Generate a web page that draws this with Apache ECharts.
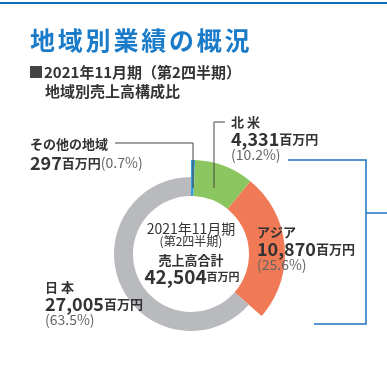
<!DOCTYPE html>
<html><head><meta charset="utf-8">
<script src="https://cdn.jsdelivr.net/npm/echarts@6/dist/echarts.min.js"></script>
<style>html,body{margin:0;padding:0;background:#fff}#c{width:387px;height:368px}</style>
</head><body><div id="c"></div>
<script>
const regions = ['その他の地域', '北 米', 'アジア', '日 本'];
const values = [297, 4331, 10870, 27005];
const shares = ['0.7%', '10.2%', '25.6%', '63.5%'];
const colors = ['#3a9fd9', '#8cc660', '#f07956', '#b9babd'];
const totalLabel = '42,504';
const unit = '百万円';
const titleText = '地域別業績の概況';

const F = '"Noto Sans CJK JP","Noto Sans",sans-serif';
const dark = '#333';
const fmt = v => v.toLocaleString('en-US');

function labelBlock(i, x, y) {
  return [
    {type:'text', style:{text:regions[i], x:x, y:y, font:'bold 13px '+F, fill:dark, textVerticalAlign:'middle'}},
    {type:'text', style:{text:'{n|'+fmt(values[i])+'}{u|'+unit+'}', x:x, y:y+17, textVerticalAlign:'middle',
      rich:{n:{font:'bold 18px '+F, fill:dark}, u:{font:'bold 13px '+F, fill:dark}}}},
    {type:'text', style:{text:'('+shares[i]+')', x:x, y:y+33, font:'14px '+F, fill:'#666', textVerticalAlign:'middle'}}
  ];
}

const titleChars = titleText.split('').map((ch,k)=>({type:'text', style:{text:ch, x:30+k*27.8, y:40, font:'bold 25px '+F, fill:'#1a7bc9', textVerticalAlign:'middle'}}));

const chart = echarts.init(document.getElementById('c'));
const center = [191, 254];
const graphics = [
    {type:'rect', shape:{x:0,y:2,width:387,height:2}, style:{fill:'#0a6ebd'}},
    ...titleChars,
    {type:'rect', shape:{x:30,y:66,width:12,height:12}, style:{fill:'#444'}},
    {type:'text', style:{text:'2021年11月期（第2四半期）', x:44, y:72, font:'bold 15px '+F, fill:dark, textVerticalAlign:'middle'}},
    {type:'text', style:{text:'地域別売上高構成比', x:45, y:91, font:'bold 15px '+F, fill:dark, textVerticalAlign:'middle'}},
    ...labelBlock(0, 30, 144).slice(0,1),
    {type:'text', style:{text:'{n|'+fmt(values[0])+'}{u|'+unit+'}{p|('+shares[0]+')}', x:30, y:163, textVerticalAlign:'middle',
      rich:{n:{font:'bold 18px '+F, fill:dark}, u:{font:'bold 13px '+F, fill:dark}, p:{font:'14px '+F, fill:'#666'}}}},
    ...labelBlock(1, 231, 122),
    ...labelBlock(2, 257, 232),
    ...labelBlock(3, 45, 287),
    {type:'polyline', shape:{points:[[115,143],[193,143],[193,188]]}, style:{stroke:'#444', lineWidth:1, fill:null}},
    {type:'polyline', shape:{points:[[225,122],[214,122],[214,188]]}, style:{stroke:'#444', lineWidth:1, fill:null}},
    {type:'polyline', shape:{points:[[288,160],[366,160],[366,324],[314,324]]}, style:{stroke:'#1b72c2', lineWidth:1.5, fill:null}},
    {type:'line', shape:{x1:366,y1:213,x2:387,y2:213}, style:{stroke:'#1b72c2', lineWidth:1.5}},
    {type:'text', style:{text:'2021年11月期', x:191, y:229, font:'14px '+F, fill:dark, textAlign:'center', textVerticalAlign:'middle'}},
    {type:'text', style:{text:'(第2四半期)', x:191, y:241, font:'12px '+F, fill:dark, textAlign:'center', textVerticalAlign:'middle'}},
    {type:'text', style:{text:'売上高合計', x:191, y:260, font:'bold 13px '+F, fill:dark, textAlign:'center', textVerticalAlign:'middle'}},
    {type:'text', style:{text:'{n|'+totalLabel+'}{u|'+unit+'}', x:192, y:277, textAlign:'center', textVerticalAlign:'middle',
      rich:{n:{font:'bold 19px '+F, fill:dark}, u:{font:'bold 11px '+F, fill:dark}}}}
];
graphics.forEach(g=>{ g.z = 100; g.silent = true; });

chart.setOption({
  animation:false,
  series:[
    {type:'pie', center:center, radius:[58,94], startAngle:90, clockwise:true, silent:true, z:1,
     label:{show:false}, labelLine:{show:false},
     data: values.map((v,i)=>({value:v, name:regions[i], itemStyle:{color: i===3?'rgba(0,0,0,0)':colors[i]}}))},
    {type:'pie', center:center, radius:[58,77], startAngle:90, clockwise:true, silent:true, z:1,
     label:{show:false}, labelLine:{show:false},
     data: values.map((v,i)=>({value:v, name:regions[i], itemStyle:{color: i===3?colors[i]:'rgba(0,0,0,0)'}}))}
  ],
  graphic: graphics
});
</script></body></html>
